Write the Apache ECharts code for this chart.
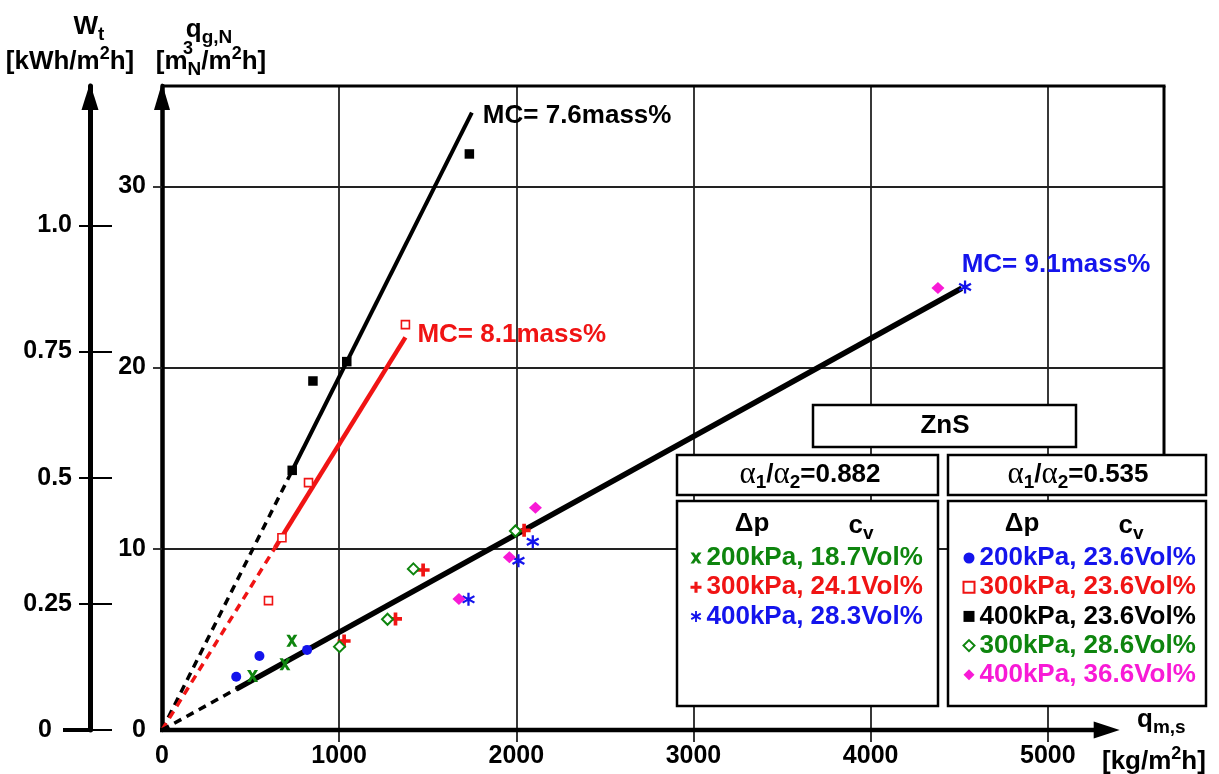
<!DOCTYPE html>
<html>
<head>
<meta charset="utf-8">
<script src="https://cdn.jsdelivr.net/npm/echarts@6/dist/echarts.min.js"></script>
<style>
  html, body { margin: 0; padding: 0; background: #fff; }
  #chart { width: 1219px; height: 774px; }
</style>
</head>
<body>
<div id="chart"></div>
<script>
// axis ticks
const xTicks = [0, 1000, 2000, 3000, 4000, 5000];
const qTicks = [0, 10, 20, 30];
const wTicks = [0, 0.25, 0.5, 0.75, 1.0];

// fitted lines  [q_m,s, q_g,N]
const mc76Dash = [[0, 0], [735, 14.32]];
const mc76Line = [[735, 14.32], [1749, 34.07]];
const mc81Dash = [[0, 0], [638, 10.06]];
const mc81Line = [[638, 10.06], [1374, 21.67]];
const mc91Dash = [[0, 0], [419, 2.26]];
const mc91Line = [[419, 2.26], [4514, 24.38]];

// alpha1/alpha2 = 0.882
const x200_187 = [[511, 2.98], [694, 3.63], [733, 4.93]];
const p300_241 = [[1028, 4.91], [1318, 6.13], [1474, 8.83], [2044, 11.02]];
const s400_283 = [[1730, 7.21], [2012, 9.34], [2093, 10.39], [4533, 24.45]];
// alpha1/alpha2 = 0.535
const c200_236 = [[419, 2.94], [550, 4.08], [819, 4.42]];
const r300_236 = [[601, 7.14], [677, 10.61], [827, 13.65], [1374, 22.37]];
const q400_236 = [[735, 14.33], [852, 19.26], [1043, 20.33], [1735, 31.79]];
const d300_286 = [[1002, 4.60], [1273, 6.11], [1419, 8.89], [1995, 10.98]];
const m400_366 = [[1676, 7.23], [1961, 9.53], [2108, 12.27], [4380, 24.39]];

const X_MAX = 5656, Q_MAX = 35.54, W_MAX = 1.2761, X_ARROW = 5406;
const BOX_TOP = 455;

const F = '"Liberation Sans", Arial, sans-serif';
const GREEN = '#0e850e', RED = '#f01414', BLUE = '#1414ec', MAGENTA = '#f81ad6';
const X_PATH = 'path://M0,0H3.8L6,3.4L8.2,0H12L7.9,6L12,12H8.2L6,8.6L3.8,12H0L4.1,6Z';
const PLUS_PATH = 'path://M4.3,0H7.7V4.3H12V7.7H7.7V12H4.3V7.7H0V4.3H4.3Z';
const STAR_PATH = 'path://M5,0H7V12H5Z M11.696,8.134L10.696,9.866L0.304,3.866L1.304,2.134Z M1.304,9.866L0.304,8.134L10.696,2.134L11.696,3.866Z';

const bold = (size, color) => ({ fontSize: size, fontWeight: 'bold', fontFamily: F, color: color || '#000' });

function pts(name, data, symbol, size, color, hollow) {
    return {
        name: name, type: 'scatter', data: data, symbol: symbol, symbolSize: size, z: 4,
        itemStyle: hollow ? { color: '#fff', borderColor: color, borderWidth: hollow, opacity: 1 } : { color: color, opacity: 1 }
    };
}

function fit(data, width, color, dashed, label, labelColor, offset) {
    const s = {
        type: 'line', data: data, symbol: 'none', z: 3, silent: true,
        lineStyle: { color: color, width: width, type: dashed ? [8, 6] : 'solid', cap: 'butt' }
    };
    if (label) {
        s.endLabel = Object.assign({ show: true, formatter: label, offset: offset, distance: 0 }, bold(26, labelColor));
    }
    return s;
}

const names = ['200kPa, 18.7Vol%', '300kPa, 24.1Vol%', '400kPa, 28.3Vol%',
    '200kPa, 23.6Vol%', '300kPa, 23.6Vol%', '400kPa, 23.6Vol%', '300kPa, 28.6Vol%', '400kPa, 36.6Vol%'];
const colors = [GREEN, RED, BLUE, BLUE, RED, '#000', GREEN, MAGENTA];

function legendBox(left, from, to) {
    return {
        orient: 'vertical', left: left, top: 543.4, padding: 0, itemGap: 0,
        itemWidth: 11, itemHeight: 11, selectedMode: false, z: 30,
        textStyle: Object.assign({ lineHeight: 29.2 }, bold(26)),
        data: names.slice(from, to).map((n, i) => ({ name: n, textStyle: { color: colors[from + i] } }))
    };
}

const subRich = {
    b: { fontSize: 26, fontWeight: 'bold', fontFamily: F, lineHeight: 34, verticalAlign: 'middle' },
    s: { fontSize: 19, fontWeight: 'bold', fontFamily: F, lineHeight: 18, verticalAlign: 'bottom' },
    p: { fontSize: 18, fontWeight: 'bold', fontFamily: F, lineHeight: 18, verticalAlign: 'top' },
    a: { fontSize: 31, fontFamily: '"Liberation Serif", serif', lineHeight: 34, verticalAlign: 'middle' },
    t: { fontSize: 26, fontWeight: 'bold', fontFamily: F, lineHeight: 34, verticalAlign: 'middle' }
};

function txt(x, y, text, align, color) {
    return {
        type: 'text', x: x, y: y, z: 40,
        style: {
            text: text, rich: subRich, fill: color || '#000', align: align || 'center', verticalAlign: 'middle',
            fontSize: 26, fontWeight: 'bold', fontFamily: F, lineHeight: 34
        }
    };
}

function box(x, y, w, h) {
    return { type: 'rect', z: 20, shape: { x: x, y: y, width: w, height: h }, style: { fill: '#fff', stroke: '#000', lineWidth: 2.5 } };
}

const gridLine = { color: '#222', width: 1.8 };
const clear = { color: 'rgba(0,0,0,0)' };

const option = {
    animation: false,
    backgroundColor: '#fff',
    grid: { left: 162, right: 55, top: 86, bottom: 44, outerBoundsMode: 'none' },
    xAxis: {
        type: 'value', min: 0, max: X_MAX, interval: 1000,
        axisLine: { show: true, lineStyle: clear },
        axisTick: { show: true, length: 12, customValues: xTicks.slice(1), lineStyle: gridLine },
        axisLabel: Object.assign({ customValues: xTicks, margin: 14, formatter: v => String(v) }, bold(25)),
        splitLine: { show: true, showMinLine: true, showMaxLine: true, lineStyle: gridLine }
    },
    yAxis: [
        {
            type: 'value', min: 0, max: Q_MAX, interval: 10,
            axisLine: { show: true, symbol: ['none', 'triangle'], symbolSize: [16, 27], symbolOffset: [0, -10.5], lineStyle: { color: '#000', width: 4.5 } },
            axisTick: { show: true, length: 9, customValues: qTicks.slice(1), lineStyle: gridLine },
            axisLabel: Object.assign({ customValues: qTicks, margin: 16, formatter: v => String(v) }, bold(25)),
            splitLine: { show: true, showMinLine: true, showMaxLine: true, lineStyle: gridLine }
        },
        {
            type: 'value', min: 0, max: W_MAX, interval: 0.25, position: 'left', offset: 72,
            axisLine: { show: true, symbol: ['none', 'triangle'], symbolSize: [17, 27], symbolOffset: [0, -10.5], lineStyle: { color: '#000', width: 5 } },
            axisTick: { show: true, length: 11, customValues: wTicks.slice(1), lineStyle: { color: '#000', width: 2 } },
            axisLabel: Object.assign({
                customValues: wTicks, margin: 18,
                formatter: v => v === 0 ? '{z|0}' : (v === 1 ? '1.0' : String(v)),
                rich: { z: Object.assign({ padding: [0, 20, 0, 0] }, bold(25)) }
            }, bold(25)),
            splitLine: { show: false }
        },
        {
            type: 'value', min: 0, max: W_MAX, interval: 0.25, position: 'left', offset: 72,
            axisLine: { show: true, lineStyle: clear },
            axisTick: { show: true, inside: true, length: 22, customValues: wTicks, lineStyle: { color: '#000', width: 2 } },
            axisLabel: { show: false }, splitLine: { show: false }
        },
        {
            type: 'value', min: 0, max: W_MAX, interval: 0.25, position: 'left', offset: 72,
            axisLine: { show: true, lineStyle: clear },
            axisTick: { show: true, length: 27, customValues: [0], lineStyle: { color: '#000', width: 4 } },
            axisLabel: { show: false }, splitLine: { show: false }
        }
    ],
    legend: [legendBox(690.5, 0, 3), legendBox(962.5, 3, 8)],
    series: [
        fit(mc76Dash, 3.5, '#000', true),
        fit(mc76Line, 4, '#000', false, 'MC= 7.6mass%', '#000', [11, 3]),
        fit(mc81Dash, 3.5, RED, true),
        fit(mc81Line, 4.5, RED, false, 'MC= 8.1mass%', RED, [12, -3]),
        fit(mc91Dash, 3.5, '#000', true),
        fit(mc91Line, 5.5, '#000', false, 'MC= 9.1mass%', BLUE, [0, -23]),
        pts(names[0], x200_187, X_PATH, [11, 12], GREEN),
        pts(names[1], p300_241, PLUS_PATH, 13, RED),
        pts(names[2], s400_283, STAR_PATH, 13, BLUE),
        pts(names[3], c200_236, 'circle', 10, BLUE),
        pts(names[4], r300_236, 'rect', 8, RED, 1.6),
        pts(names[5], q400_236, 'rect', 9.5, '#000'),
        pts(names[6], d300_286, 'diamond', [11, 11], GREEN, 2),
        pts(names[7], m400_366, 'diamond', [13, 12], MAGENTA)
    ],
    graphic: [
        Object.assign({ id: 'zns' }, box(813, 405, 263, 42)),
        Object.assign({ id: 'ttl1' }, box(677, BOX_TOP, 261, 40)),
        Object.assign({ id: 'ttl2' }, box(948, BOX_TOP, 258, 40)),
        Object.assign({ id: 'cnt1' }, box(677, 501, 261, 205)),
        Object.assign({ id: 'cnt2' }, box(948, 501, 258, 205)),
        Object.assign({ id: 'tZnS' }, txt(945, 426, 'ZnS')),
        Object.assign({ id: 'tA1' }, txt(810, 475, '{a|α}{s|1}{t|/}{a|α}{s|2}{t|=0.882}')),
        Object.assign({ id: 'tA2' }, txt(1078, 475, '{a|α}{s|1}{t|/}{a|α}{s|2}{t|=0.535}')),
        Object.assign({ id: 'dp1' }, txt(752, 524, '{b|Δp}')),
        Object.assign({ id: 'cv1' }, txt(861, 526, '{b|c}{s|v}')),
        Object.assign({ id: 'dp2' }, txt(1022, 524, '{b|Δp}')),
        Object.assign({ id: 'cv2' }, txt(1131, 526, '{b|c}{s|v}')),
        Object.assign({ id: 'wT' }, txt(89, 27, '{b|W}{s|t}')),
        Object.assign({ id: 'wU' }, txt(70, 62, '[kWh/m{p|2}h]')),
        Object.assign({ id: 'qT' }, txt(209, 30, '{b|q}{s|g,N}')),
        Object.assign({ id: 'qU' }, txt(211, 62, '[m{s|N}/m{p|2}h]')),
        Object.assign({ id: 'qU3' }, txt(188, 49, '{p|3}')),
        Object.assign({ id: 'xT' }, txt(1137, 720, '{b|q}{s|m,s}', 'left')),
        Object.assign({ id: 'xU' }, txt(1102, 762, '[kg/m{p|2}h]', 'left'))
    ]
};

const chart = echarts.init(document.getElementById('chart'));
chart.setOption(option);

// frame and x axis arrow, placed through the axes
const o = chart.convertToPixel({ gridIndex: 0 }, [0, 0]);
const tr = chart.convertToPixel({ gridIndex: 0 }, [X_MAX, Q_MAX]);
const tip = chart.convertToPixel({ gridIndex: 0 }, [X_ARROW, 0]);
chart.setOption({
    graphic: [
        { id: 'frameTop', type: 'line', z: 10, shape: { x1: o[0], y1: tr[1], x2: tr[0] + 1.5, y2: tr[1] }, style: { stroke: '#000', lineWidth: 3 } },
        { id: 'frameRight', type: 'line', z: 10, shape: { x1: tr[0], y1: tr[1], x2: tr[0], y2: BOX_TOP }, style: { stroke: '#000', lineWidth: 3 } },
        { id: 'xLine', type: 'line', z: 10, shape: { x1: o[0] - 2, y1: o[1], x2: tip[0] - 20, y2: o[1] }, style: { stroke: '#000', lineWidth: 4.5 } },
        { id: 'xArrow', type: 'polygon', z: 10, shape: { points: [[tip[0], o[1]], [tip[0] - 26, o[1] - 8.5], [tip[0] - 26, o[1] + 8.5]] }, style: { fill: '#000' } }
    ]
});
window.addEventListener('resize', () => chart.resize());
</script>
</body>
</html>
